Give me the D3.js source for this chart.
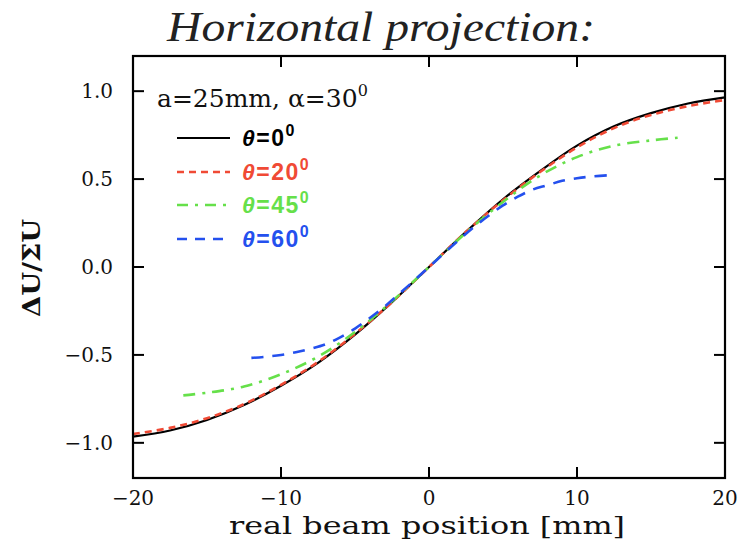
<!DOCTYPE html>
<html>
<head>
<meta charset="utf-8">
<script src="https://cdn.jsdelivr.net/npm/d3@7"></script>
<style>
  body { margin: 0; background: #fff; }
  svg { display: block; }
</style>
</head>
<body>
<svg id="chart" width="738" height="543"></svg>
<script>
// Beam position samples [mm] and response for each angle
const xBlack = [-20, -17.5, -15, -12.5, -10, -7.5, -5, -2.5, 0, 2.5, 5, 7.5, 10, 12.5, 15, 17.5, 20];
const yBlack = [-0.965, -0.93, -0.87, -0.785, -0.675, -0.545, -0.385, -0.20, 0, 0.20, 0.385, 0.545, 0.69, 0.80, 0.875, 0.93, 0.965];

const xRed = [-20, -17.5, -15, -12.5, -10, -7.5, -5, -2.5, 0, 2.5, 5, 7.5, 10, 12.5, 15, 17.5, 20];
const yRed = [-0.95, -0.915, -0.86, -0.78, -0.67, -0.54, -0.38, -0.20, 0, 0.20, 0.38, 0.54, 0.68, 0.79, 0.865, 0.915, 0.95];

const xGreen = [-16.6, -15, -12.5, -10, -7.5, -5, -2.5, 0, 2.5, 5, 7.5, 10, 12.5, 15, 16.8];
const yGreen = [-0.73, -0.715, -0.68, -0.61, -0.51, -0.37, -0.195, 0, 0.195, 0.37, 0.52, 0.625, 0.69, 0.72, 0.735];

const xBlue = [-12, -11, -10, -9, -8, -7, -6, -5, -4, -3, -2, -1, 0, 1, 2, 3, 4, 5, 6, 7, 8, 9, 10, 11, 12.2];
const yBlue = [-0.517, -0.51, -0.50, -0.485, -0.465, -0.44, -0.40, -0.35, -0.29, -0.225, -0.152, -0.077, 0, 0.077, 0.152, 0.225, 0.29, 0.35, 0.40, 0.44, 0.465, 0.49, 0.505, 0.515, 0.522];

const xTicks = [-20, -10, 0, 10, 20];
const yTicks = [-1.0, -0.5, 0.0, 0.5, 1.0];

const series = [
  { name: "0", xs: xBlack, ys: yBlack, color: "#000000", dash: null },
  { name: "20", xs: xRed, ys: yRed, color: "#f04a35", dash: "7,5" },
  { name: "45", xs: xGreen, ys: yGreen, color: "#66e04a", dash: "12,7,3,7" },
  { name: "60", xs: xBlue, ys: yBlue, color: "#2450ee", dash: "12,9" }
];

const svg = d3.select("#chart");
const margin = { left: 133, right: 13, top: 56, bottom: 65 };
const W = 738, H = 543;

const x = d3.scaleLinear().domain([-20, 20]).range([margin.left, W - margin.right]);
const y = d3.scaleLinear().domain([-1.2, 1.2]).range([H - margin.bottom, margin.top]);

// Title
svg.append("text")
  .attr("x", 381).attr("y", 41)
  .attr("text-anchor", "middle")
  .attr("font-family", "Liberation Serif")
  .attr("font-style", "italic")
  .attr("font-size", 42)
  .attr("textLength", 428)
  .attr("lengthAdjust", "spacingAndGlyphs")
  .attr("fill", "#222")
  .text("Horizontal projection:");

// Curves
const line = d3.line()
  .x(d => x(d[0]))
  .y(d => y(d[1]))
  .curve(d3.curveCatmullRom);

series.forEach(s => {
  svg.append("path")
    .datum(d3.zip(s.xs, s.ys))
    .attr("d", line)
    .attr("fill", "none")
    .attr("stroke", s.color)
    .attr("stroke-width", s.dash ? 2.6 : 2.2)
    .attr("stroke-dasharray", s.dash);
});

// Frame
svg.append("rect")
  .attr("x", x(-20)).attr("y", y(1.2))
  .attr("width", x(20) - x(-20)).attr("height", y(-1.2) - y(1.2))
  .attr("fill", "none").attr("stroke", "#000").attr("stroke-width", 2.2);

// Inward ticks on all four sides
const tickLen = 11;
xTicks.forEach(t => {
  svg.append("line").attr("x1", x(t)).attr("x2", x(t))
    .attr("y1", y(-1.2)).attr("y2", y(-1.2) - tickLen)
    .attr("stroke", "#000").attr("stroke-width", 2);
  svg.append("line").attr("x1", x(t)).attr("x2", x(t))
    .attr("y1", y(1.2)).attr("y2", y(1.2) + tickLen)
    .attr("stroke", "#000").attr("stroke-width", 2);
  svg.append("text")
    .attr("x", x(t)).attr("y", y(-1.2) + 27)
    .attr("text-anchor", "middle")
    .attr("font-family", "DejaVu Serif")
    .attr("font-size", 20)
    .attr("fill", "#111")
    .text(t < 0 ? "\u2212" + Math.abs(t) : String(t));
});
yTicks.forEach(t => {
  svg.append("line").attr("x1", x(-20)).attr("x2", x(-20) + tickLen)
    .attr("y1", y(t)).attr("y2", y(t))
    .attr("stroke", "#000").attr("stroke-width", 2);
  svg.append("line").attr("x1", x(20)).attr("x2", x(20) - tickLen)
    .attr("y1", y(t)).attr("y2", y(t))
    .attr("stroke", "#000").attr("stroke-width", 2);
  svg.append("text")
    .attr("x", x(-20) - 20).attr("y", y(t) + 7)
    .attr("text-anchor", "end")
    .attr("font-family", "DejaVu Serif")
    .attr("font-size", 20)
    .attr("fill", "#111")
    .text(t < 0 ? "\u2212" + Math.abs(t).toFixed(1) : t.toFixed(1));
});

// Axis titles
svg.append("text")
  .attr("x", 427).attr("y", 534)
  .attr("text-anchor", "middle")
  .attr("font-family", "DejaVu Serif")
  .attr("font-size", 25)
  .attr("textLength", 396)
  .attr("lengthAdjust", "spacingAndGlyphs")
  .attr("fill", "#111")
  .text("real beam position [mm]");

svg.append("text")
  .attr("transform", "translate(40,268) rotate(-90)")
  .attr("text-anchor", "middle")
  .attr("font-family", "DejaVu Serif")
  .attr("font-weight", "bold")
  .attr("font-size", 25)
  .attr("textLength", 98)
  .attr("lengthAdjust", "spacingAndGlyphs")
  .attr("fill", "#111")
  .text("\u0394U/\u03A3U");

// Parameters note
const note = svg.append("text")
  .attr("x", 157).attr("y", 107)
  .attr("font-family", "DejaVu Serif")
  .attr("font-size", 25)
  .attr("fill", "#111");
note.append("tspan").text("a=25mm,  \u03B1=30");
note.append("tspan").attr("font-size", 16).attr("dy", -11).text("0");

// Legend
const legendY = [138, 172, 205, 239];
series.forEach((s, i) => {
  const ly = legendY[i];
  svg.append("line")
    .attr("x1", 177).attr("x2", 230)
    .attr("y1", ly).attr("y2", ly)
    .attr("stroke", s.color)
    .attr("stroke-width", s.dash ? 2.6 : 2.2)
    .attr("stroke-dasharray", s.dash ? (i === 2 ? "11,7,3,7" : (i === 1 ? "7,5" : "10,8")) : null);
  const t = svg.append("text")
    .attr("x", 242).attr("y", ly + 8)
    .attr("font-family", "Liberation Sans")
    .attr("font-weight", "bold")
    .attr("font-size", 23)
    .attr("letter-spacing", 1.5)
    .attr("fill", s.color);
  t.append("tspan").attr("font-style", "italic").text("\u03B8");
  t.append("tspan").text("=" + s.name);
  t.append("tspan").attr("font-size", 16).attr("dy", -10).text("0");
});
</script>
</body>
</html>
